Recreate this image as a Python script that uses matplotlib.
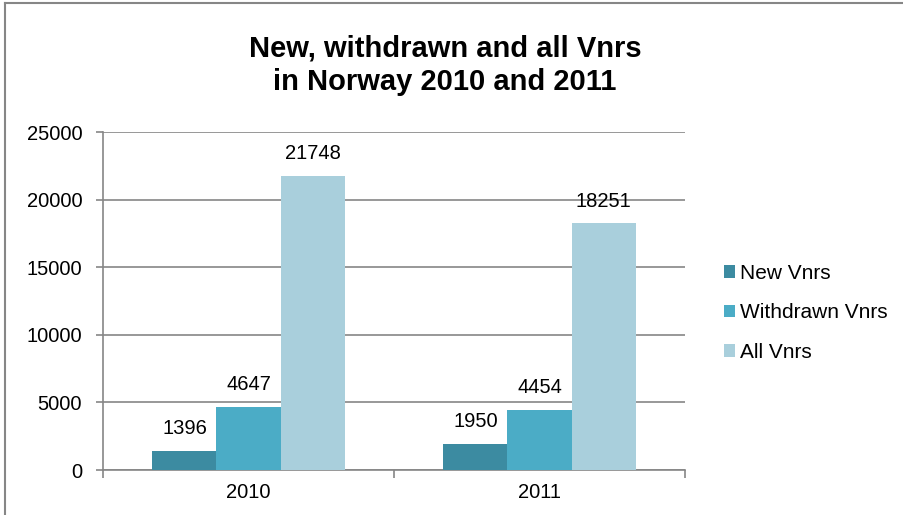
import matplotlib
matplotlib.use("Agg")
import matplotlib.pyplot as plt
import numpy as np
from matplotlib.lines import Line2D

years = ["2010", "2011"]
series_names = ["New Vnrs", "Withdrawn Vnrs", "All Vnrs"]
new_vnrs = [1396, 1950]
withdrawn_vnrs = [4647, 4454]
all_vnrs = [21748, 18251]
colors = ["#3C8BA1", "#4BACC6", "#A9CFDC"]
yticks = [0, 5000, 10000, 15000, 20000, 25000]

plt.rcParams['font.family'] = ['Liberation Sans', 'DejaVu Sans']

W, H = 904, 515
fig = plt.figure(figsize=(W/100, H/100), dpi=100)
ax = fig.add_axes([103/W, 1-470/H, (685-103)/W, (470-132)/H])

fs = 14.5
x = np.arange(len(years))
bw = 0.22
grey = "#868686"
for i, (vals, c, name) in enumerate(zip([new_vnrs, withdrawn_vnrs, all_vnrs], colors, series_names)):
    bars = ax.bar(x + (i-1)*bw, vals, width=bw, color=c, label=name, zorder=3)
    for b, v in zip(bars, vals):
        ax.annotate(str(v), (b.get_x()+b.get_width()/2, v), xytext=(0, 16),
                    textcoords="offset points", ha="center", va="center", fontsize=fs)

ax.set_xlim(-0.5, 1.5)
ax.set_ylim(0, 25000)
ax.set_yticks(yticks)
ax.set_yticklabels([str(t) for t in yticks], fontsize=fs)
ax.yaxis.grid(True, color=grey, linewidth=1.2, zorder=0)
ax.set_xticks([0, 1])
ax.set_xticklabels(years, fontsize=fs)
ax.set_xticks([-0.5, 0.5, 1.5], minor=True)
ax.tick_params(axis='x', which='major', length=0, pad=9)
ax.tick_params(axis='x', which='minor', length=6, color=grey, width=1.2)
ax.tick_params(axis='y', length=5, color=grey, width=1.2, pad=10)
for s in ['top', 'right']:
    ax.spines[s].set_visible(False)
for s in ['left', 'bottom']:
    ax.spines[s].set_color(grey)
    ax.spines[s].set_linewidth(1.2)

fig.text(445/W, 1-65/H, "New, withdrawn and all Vnrs\nin Norway 2010 and 2011", ha="center", va="center",
         fontsize=21, fontweight="bold", linespacing=1.25)

leg = ax.legend(loc="center left", bbox_to_anchor=(705/W, 1-313/H), bbox_transform=fig.transFigure,
                frameon=False, fontsize=15, handlelength=0.55, handleheight=0.55, handletextpad=0.25,
                labelspacing=0.98)

# chart border (left and top visible)
fig.add_artist(Line2D([5/W, 5/W], [0, 1-3/H], color=grey, lw=1.5, transform=fig.transFigure))
fig.add_artist(Line2D([5/W, 1], [1-3/H, 1-3/H], color=grey, lw=1.5, transform=fig.transFigure))

fig.savefig("out.png", dpi=100)
